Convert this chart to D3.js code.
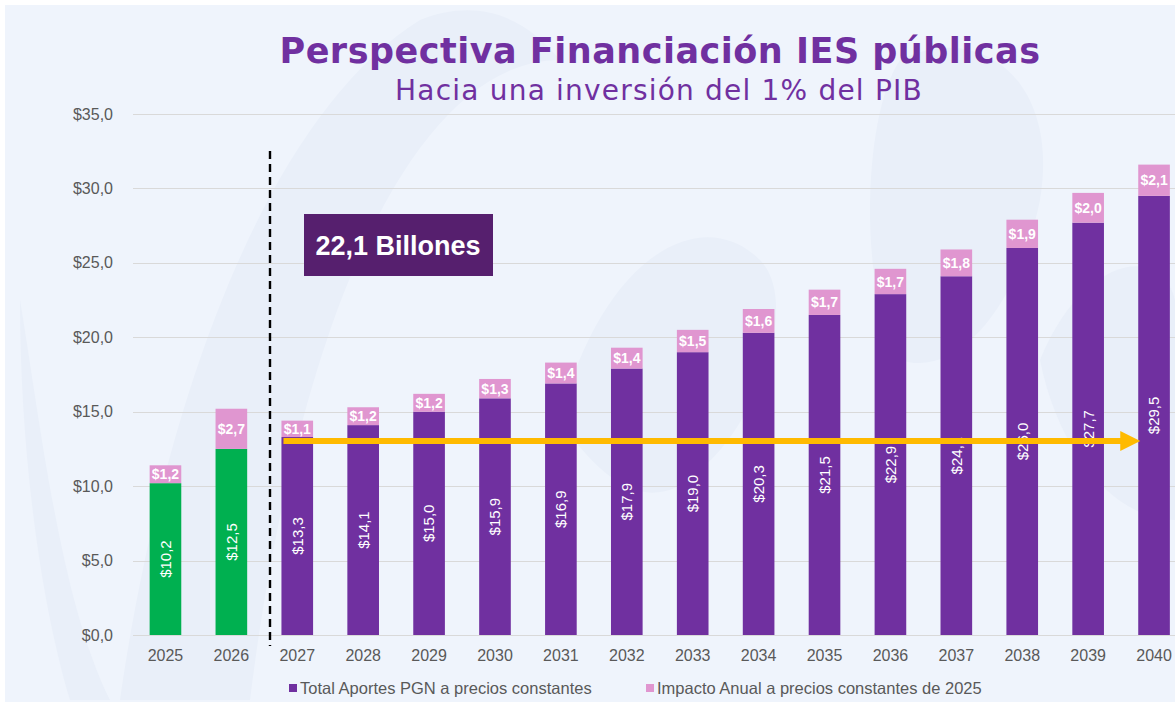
<!DOCTYPE html>
<html>
<head>
<meta charset="utf-8">
<script src="https://cdn.jsdelivr.net/npm/d3@7"></script>
<style>
  body { margin: 0; background: #fff; }
  svg { display: block; }
</style>
</head>
<body>
<div id="chart"></div>
<script>
let width = 1175;
let height = 702;

// Data
let years = ["2025", "2026", "2027", "2028", "2029", "2030", "2031", "2032", "2033", "2034", "2035", "2036", "2037", "2038", "2039", "2040"];
let aportes = [10.2, 12.5, 13.3, 14.1, 15.0, 15.9, 16.9, 17.9, 19.0, 20.3, 21.5, 22.9, 24.1, 26.0, 27.7, 29.5];
let impacto = [1.2, 2.7, 1.1, 1.2, 1.2, 1.3, 1.4, 1.4, 1.5, 1.6, 1.7, 1.7, 1.8, 1.9, 2.0, 2.1];
let greenYears = ["2025", "2026"];
let yTicks = [0, 5, 10, 15, 20, 25, 30, 35];
let legendItems = ["Total Aportes PGN a precios constantes", "Impacto Anual a precios constantes de 2025"];
let arrowLevel = 13.3;

let purple = "#7030A0";
let green = "#00B050";
let pink = "#E096D0";

let fmt = v => "$" + v.toFixed(1).replace(".", ",");

let svg = d3.select("#chart").append("svg")
    .attr("width", width)
    .attr("height", height);

// Background panel
svg.append("rect")
    .attr("x", 5).attr("y", 5)
    .attr("width", width - 5).attr("height", height - 5)
    .attr("fill", "#eff4fc");

// Faint watermark shapes
let wm = svg.append("g").attr("fill", "#e9eff9");
wm.append("path").attr("d", "M120,700 C160,420 260,120 420,20 C470,0 520,10 560,60 C420,60 300,300 250,700 Z");
wm.append("path").attr("d", "M20,300 C40,420 60,600 110,700 L70,700 C40,600 20,450 20,300 Z");
wm.append("path").attr("d", "M560,420 C600,260 700,200 760,260 C800,300 760,420 700,470 C650,520 600,480 560,420 Z");
wm.append("path").attr("d", "M900,60 C980,20 1060,80 1040,200 C1020,300 960,380 900,360 C860,300 860,120 900,60 Z");
wm.append("path").attr("d", "M1040,360 C1080,260 1160,240 1175,300 L1175,520 C1120,520 1060,460 1040,360 Z");

let margin = {top: 114, bottom: 635, left: 132.5, right: 1187};

let x = d3.scaleBand()
    .domain(years)
    .range([margin.left, margin.right])
    .paddingInner(0.52)
    .paddingOuter(0.26);

let y = d3.scaleLinear()
    .domain([0, 35])
    .range([margin.bottom, margin.top]);

// Gridlines
svg.append("g")
    .selectAll("line")
    .data(yTicks)
    .join("line")
    .attr("x1", 133).attr("x2", width)
    .attr("y1", d => Math.round(y(d)) + 0.5)
    .attr("y2", d => Math.round(y(d)) + 0.5)
    .attr("stroke", "#d9d9d9")
    .attr("stroke-width", 1.2);

// Y axis
let yAxis = d3.axisLeft(y)
    .tickValues(yTicks)
    .tickSize(0)
    .tickPadding(0)
    .tickFormat(fmt);

svg.append("g")
    .attr("transform", "translate(113,0)")
    .call(yAxis)
    .call(g => g.select(".domain").remove())
    .selectAll("text")
    .attr("font-family", "Liberation Sans, Arial, sans-serif")
    .attr("font-size", 16)
    .attr("fill", "#595959");

// X axis
let xAxis = d3.axisBottom(x).tickSize(0).tickPadding(0);
svg.append("g")
    .attr("transform", "translate(0," + (margin.bottom + 15) + ")")
    .call(xAxis)
    .call(g => g.select(".domain").remove())
    .selectAll("text")
    .attr("font-family", "Liberation Sans, Arial, sans-serif")
    .attr("font-size", 16)
    .attr("fill", "#595959");

let rows = years.map((yr, i) => ({year: yr, a: aportes[i], b: impacto[i]}));

// Bars: main segment
svg.append("g")
    .selectAll("rect")
    .data(rows)
    .join("rect")
    .attr("x", d => x(d.year))
    .attr("width", x.bandwidth())
    .attr("y", d => y(d.a))
    .attr("height", d => y(0) - y(d.a))
    .attr("fill", d => greenYears.includes(d.year) ? green : purple);

// Bars: stacked annual impact
svg.append("g")
    .selectAll("rect")
    .data(rows)
    .join("rect")
    .attr("x", d => x(d.year))
    .attr("width", x.bandwidth())
    .attr("y", d => y(d.a + d.b))
    .attr("height", d => y(d.a) - y(d.a + d.b))
    .attr("fill", pink);

// Impact labels
svg.append("g")
    .selectAll("text")
    .data(rows)
    .join("text")
    .attr("x", d => x(d.year) + x.bandwidth() / 2)
    .attr("y", d => (y(d.a) + y(d.a + d.b)) / 2)
    .attr("dy", "0.36em")
    .attr("text-anchor", "middle")
    .attr("font-family", "Liberation Sans, Arial, sans-serif")
    .attr("font-weight", "bold")
    .attr("font-size", 14)
    .attr("fill", "#fff")
    .text(d => fmt(d.b));

// Main value labels (rotated)
svg.append("g")
    .selectAll("text")
    .data(rows)
    .join("text")
    .attr("transform", d => "translate(" + (x(d.year) + x.bandwidth() / 2) + "," + ((y(0) + y(d.a)) / 2) + ") rotate(-90)")
    .attr("dy", "0.36em")
    .attr("text-anchor", "middle")
    .attr("font-family", "Liberation Sans, Arial, sans-serif")
    .attr("font-size", 15)
    .attr("fill", "#fff")
    .text(d => fmt(d.a));

// Dashed divider between 2026 and 2027
let divX = 270;
svg.append("line")
    .attr("x1", divX).attr("x2", divX)
    .attr("y1", 151).attr("y2", 646)
    .attr("stroke", "#000")
    .attr("stroke-width", 2.4)
    .attr("stroke-dasharray", "8,5");

// Yellow arrow
let ay = y(arrowLevel) + 4;
let ax0 = x("2027") + 2;
let ax1 = x("2040") + 2;
svg.append("line")
    .attr("x1", ax0).attr("x2", ax1 - 18)
    .attr("y1", ay).attr("y2", ay)
    .attr("stroke", "#FFBA00")
    .attr("stroke-width", 6);
svg.append("path")
    .attr("d", "M" + (ax1 - 20) + "," + (ay - 10) + " L" + ax1 + "," + ay + " L" + (ax1 - 20) + "," + (ay + 10) + " Z")
    .attr("fill", "#FFBA00");

// Callout box
svg.append("rect")
    .attr("x", 304).attr("y", 214)
    .attr("width", 189).attr("height", 62)
    .attr("fill", "#561F6E");
svg.append("text")
    .attr("x", 398).attr("y", 245)
    .attr("dy", "0.36em")
    .attr("text-anchor", "middle")
    .attr("font-family", "Liberation Sans, Arial, sans-serif")
    .attr("font-weight", "bold")
    .attr("font-size", 27)
    .attr("fill", "#fff")
    .text("22,1 Billones");

// Titles
svg.append("text")
    .attr("x", 660).attr("y", 63)
    .attr("text-anchor", "middle")
    .attr("font-family", "DejaVu Sans, Verdana, sans-serif")
    .attr("font-weight", "bold")
    .attr("font-size", 35)
    .attr("letter-spacing", 0.5)
    .attr("fill", purple)
    .text("Perspectiva Financiación IES públicas");
svg.append("text")
    .attr("x", 659).attr("y", 100)
    .attr("text-anchor", "middle")
    .attr("font-family", "DejaVu Sans, Verdana, sans-serif")
    .attr("font-size", 28)
    .attr("letter-spacing", 1.2)
    .attr("fill", purple)
    .text("Hacia una inversión del 1% del PIB");

// Legend
let legend = svg.append("g").attr("font-family", "Liberation Sans, Arial, sans-serif");
let legendX = [289, 646];
let legendColors = [purple, pink];
legendItems.forEach((t, i) => {
    legend.append("rect")
        .attr("x", legendX[i]).attr("y", 684)
        .attr("width", 8).attr("height", 8)
        .attr("fill", legendColors[i]);
    legend.append("text")
        .attr("x", legendX[i] + 11).attr("y", 688)
        .attr("dy", "0.36em")
        .attr("font-size", 16.5)
        .attr("fill", "#595959")
        .text(t);
});
</script>
</body>
</html>
